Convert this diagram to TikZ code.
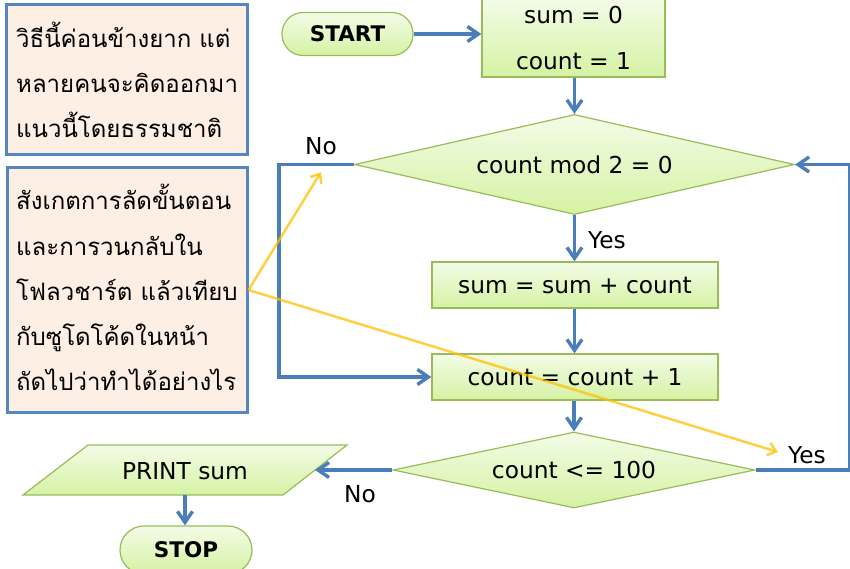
\documentclass[tikz,border=0pt]{standalone}
\usepackage{fontspec}
\setmainfont{DejaVu Sans}
\newfontfamily\thaifont[Script=Thai]{Loma}
\usetikzlibrary{arrows.meta,shapes.geometric}
\definecolor{gtop}{HTML}{F3FCE7}
\definecolor{gbot}{HTML}{D5F2A3}
\definecolor{gedge}{HTML}{9BBB59}
\definecolor{flow}{HTML}{4A7EBB}
\definecolor{notefill}{HTML}{FDEFE4}
\definecolor{noteedge}{HTML}{5585C2}
\definecolor{hint}{HTML}{FFC000}
\tikzset{
  green/.style={draw=gedge, line width=1.2pt, top color=gtop, bottom color=gbot, inner sep=0pt},
  procbox/.style={green, rectangle},
  termbox/.style={green, rectangle, rounded corners=21pt},
  decbox/.style={green, diamond},
  notebox/.style={draw=noteedge, fill=notefill, line width=3pt, inner sep=0pt},
  lat/.style={font=\fontsize{23.3}{28}\selectfont},
  latb/.style={font=\fontsize{21.5}{26}\selectfont\bfseries},
  thline/.style={anchor=base west, inner sep=0pt, font=\thaifont\fontsize{24}{30}\selectfont},
  flowline/.style={draw=flow, line width=3.4pt, -{Straight Barb[length=11pt,width=15pt,line width=3.4pt]}},
  hintline/.style={draw=hint, draw opacity=0.75, line width=2.5pt, -{Straight Barb[length=8pt,width=13pt,line width=2.5pt]}},
}
\begin{document}
\begin{tikzpicture}[x=1pt,y=-1pt]
\useasboundingbox (0,0) rectangle (850,569);

% notes
\node[notebox, minimum width=241, minimum height=150] (note1) at (126.5,80) {};
\node[notebox, minimum width=240, minimum height=244] (note2) at (127,290) {};
\node[thline] (n1a) at (16,48) {วิธีนี้ค่อนข้างยาก แต่};
\node[thline] (n1b) at (16,93) {หลายคนจะคิดออกมา};
\node[thline] (n1c) at (16,138) {แนวนี้โดยธรรมชาติ};
\node[thline] (n2a) at (16,210) {สังเกตการลัดขั้นตอน};
\node[thline] (n2b) at (16,255) {และการวนกลับใน};
\node[thline] (n2c) at (16,300) {โฟลวชาร์ต แล้วเทียบ};
\node[thline] (n2d) at (16,345) {กับซูโดโค้ดในหน้า};
\node[thline] (n2e) at (16,390) {ถัดไปว่าทำได้อย่างไร};

% flowchart nodes
\node[termbox, latb, minimum width=131, minimum height=43] (start) at (347.5,34) {START};
\node[procbox, lat, minimum width=183, minimum height=78, align=center] (init) at (573.5,38) {sum = 0\\[18pt]count = 1};
\node[decbox, lat, aspect=4.4, minimum width=440, minimum height=100] (dec1) at (574.5,164.5) {count mod 2 = 0};
\node[procbox, lat, minimum width=286, minimum height=46] (add) at (575,285) {sum = sum + count};
\node[procbox, lat, minimum width=286, minimum height=46] (inc) at (575,377) {count = count + 1};
\node[decbox, lat, aspect=4.76, minimum width=362, minimum height=76] (dec2) at (574,470) {count <= 100};
\path[green] (88,445) -- (347,445) -- (283,495) -- (23,495) -- cycle;
\node[lat, inner sep=0pt] (print) at (185,471) {PRINT sum};
\coordinate (printR) at (315,470);
\coordinate (printB) at (185,495);
\node[termbox, latb, minimum width=132, minimum height=48, rounded corners=24pt] (stop) at (186,550) {STOP};

% labels
\node[lat, inner sep=0pt] (lno1) at (321,146) {No};
\node[lat, inner sep=0pt] (lyes1) at (607,240) {Yes};
\node[lat, inner sep=0pt] (lno2) at (360,494) {No};
\node[lat, inner sep=0pt] (lyes2) at (807,455) {Yes};

% connectors
\draw[flowline] (start.east) -- (start.east -| init.west);
\draw[flowline] (init.south -| dec1.north) -- (dec1.north);
\draw[flowline] (dec1.south) -- (add.north -| dec1.south);
\draw[flowline] (add.south -| dec1.south) -- (inc.north -| dec1.south);
\draw[flowline] (inc.south -| dec2.north) -- (dec2.north);
\draw[flowline] (dec1.west) -- ++(-75,0) |- (inc.west);
\draw[flowline] (dec2.east) -- ++(94,0) |- (dec1.east);
\draw[flowline] (dec2.west) -- (printR);
\draw[flowline] (printB) -- (printB |- stop.north);

% hint arrows
\coordinate (t1) at (321,172);
\coordinate (t2) at (778,452);
\draw[hintline] (note2.east) -- (t1);
\draw[hintline] (note2.east) -- (t2);
\end{tikzpicture}
\end{document}
